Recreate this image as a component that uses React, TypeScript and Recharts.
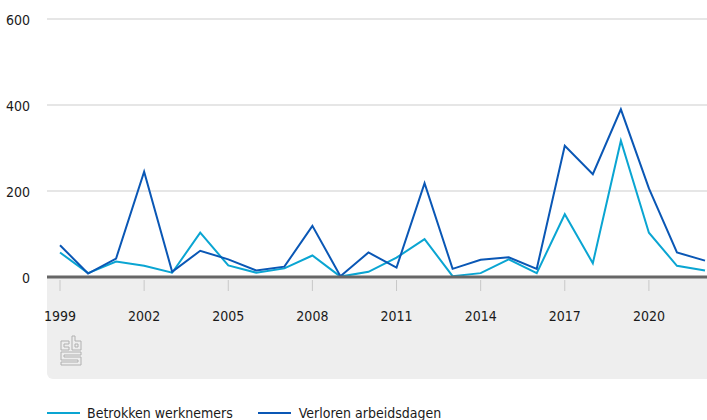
import React from 'react';
import { LineChart, Line, XAxis, YAxis, CartesianGrid, Legend } from 'recharts';

const years = [
  1999, 2000, 2001, 2002, 2003, 2004, 2005, 2006, 2007, 2008, 2009, 2010,
  2011, 2012, 2013, 2014, 2015, 2016, 2017, 2018, 2019, 2020, 2021, 2022,
];
const betrokkenWerknemers = [
  57, 9, 36, 26, 10, 103, 27, 10, 20, 50, 1, 12,
  45, 88, 2, 9, 41, 9, 146, 32, 317, 103, 26, 15,
];
const verlorenArbeidsdagen = [
  74, 8, 43, 245, 12, 61, 41, 15, 24, 119, 2, 57,
  22, 218, 19, 40, 46, 19, 305, 239, 390, 206, 57, 38,
];
const xTicks = [1999, 2002, 2005, 2008, 2011, 2014, 2017, 2020];
const yTicks = [0, 200, 400, 600];

const LIGHT = '#0aa5d2';
const DARK = '#0a57b5';
const FONT = '"Liberation Sans Narrow", "DejaVu Sans Condensed", sans-serif';

const data = years.map((year, i) => ({
  year,
  betrokken: betrokkenWerknemers[i],
  verloren: verlorenArbeidsdagen[i],
}));

const XTick = (props: any) => {
  const { x, y, payload } = props;
  return (
    <g>
      <line x1={x} x2={x} y1={y - 5} y2={y + 6} stroke="#c8c8c8" strokeWidth={1} />
      <text x={x} y={y + 31} dy="0.35em" textAnchor="middle" fill="#1a1a1a" fontSize={14} fontFamily={FONT}>
        {payload.value}
      </text>
    </g>
  );
};

const YTick = (props: any) => {
  const { y, payload } = props;
  return (
    <text x={30} y={y + 1} dy="0.35em" textAnchor="end" fill="#1a1a1a" fontSize={14} fontFamily={FONT}>
      {payload.value}
    </text>
  );
};

const LegendContent = () => (
  <div style={{ display: 'flex', alignItems: 'center', marginLeft: 47, marginTop: 5, fontFamily: FONT, fontSize: 14, color: '#1a1a1a', height: 24 }}>
    <span style={{ display: 'inline-block', width: 33, height: 2, background: LIGHT, marginRight: 7 }} />
    <span style={{ marginRight: 25 }}>Betrokken werknemers</span>
    <span style={{ display: 'inline-block', width: 33, height: 2, background: DARK, marginRight: 8 }} />
    <span>Verloren arbeidsdagen</span>
  </div>
);

// CBS logo, outlined
const CbsLogo = () => (
  <svg width={24} height={32} viewBox="0 0 24 32" style={{ position: 'absolute', left: 60, top: 335 }}>
    <g fill="none" stroke="#b0b0b0" strokeWidth={1}>
      <path d="M1 6 H9 V9 H4 V12 H9 V15 H1 Z" />
      <path d="M12 1 H15 V6 H21 V15 H12 Z M15 9 V12 H18 V9 Z" />
      <path d="M1 17 H21 V20 H4 V22 H21 V30 H1 V27 H18 V25 H1 Z" />
    </g>
  </svg>
);

export default function App() {
  return (
    <div style={{ position: 'absolute', left: 0, top: 0, width: 707, height: 420, background: '#fff' }}>
      <div style={{ position: 'absolute', left: 47, top: 278, width: 660, height: 101, background: '#eeeeee', borderBottomLeftRadius: 6 }} />
      <CbsLogo />
      <div style={{ position: 'absolute', left: 0, top: 0 }}>
        <LineChart width={707} height={420} data={data} margin={{ top: 19, right: 0, left: 0, bottom: 0 }}>
          <CartesianGrid vertical={false} stroke="#dedede" strokeWidth={1.5} />
          <XAxis
            dataKey="year"
            type="number"
            domain={[1999, 2022]}
            ticks={xTicks}
            padding={{ left: 13, right: 2 }}
            height={119}
            axisLine={{ stroke: '#666', strokeWidth: 3 }}
            tickLine={false}
            tick={<XTick />}
            interval={0}
          />
          <YAxis
            domain={[0, 600]}
            ticks={yTicks}
            width={47}
            axisLine={false}
            tickLine={false}
            tick={<YTick />}
          />
          <Legend verticalAlign="bottom" height={24} content={<LegendContent />} />
          <Line
            type="linear"
            dataKey="betrokken"
            name="Betrokken werknemers"
            stroke={LIGHT}
            strokeWidth={2}
            dot={false}
            isAnimationActive={false}
          />
          <Line
            type="linear"
            dataKey="verloren"
            name="Verloren arbeidsdagen"
            stroke={DARK}
            strokeWidth={2}
            dot={false}
            isAnimationActive={false}
          />
        </LineChart>
      </div>
    </div>
  );
}
